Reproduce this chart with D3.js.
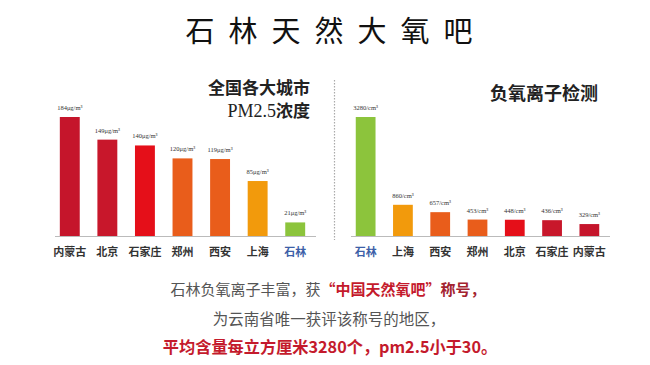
<!DOCTYPE html>
<html>
<head>
<meta charset="utf-8">
<script src="https://cdn.jsdelivr.net/npm/d3@7"></script>
<style>
  body { margin: 0; background: #fff; }
  svg { display: block; }
</style>
</head>
<body>
<svg id="chart" width="650" height="365"></svg>
<script>
// PM2.5 per city (left chart)
const pmCities = ['内蒙古', '北京', '石家庄', '郑州', '西安', '上海', '石林']
const pmValues = [184, 149, 140, 120, 119, 85, 21]
const pmColors = ['#c5152b', '#c8172b', '#e50f19', '#e95d1b', '#e95d1b', '#f29a0c', '#8cc43c']

// negative oxygen ions per cm3 (right chart)
const ionCities = ['石林', '上海', '西安', '郑州', '北京', '石家庄', '内蒙古']
const ionValues = [3280, 860, 657, 453, 448, 436, 329]
const ionColors = ['#8cc43c', '#f29a0c', '#e95d1b', '#e95d1b', '#e50f19', '#c8172b', '#c5152b']

const svg = d3.select('#chart')
const cjk = '"Noto Sans CJK SC", "Noto Sans", sans-serif'
const serif = '"Liberation Serif", "DejaVu Serif", serif'

// title
svg.append('text')
  .attr('x', 336)
  .attr('y', 42)
  .attr('text-anchor', 'middle')
  .attr('font-family', cjk)
  .attr('font-size', 29)
  .attr('letter-spacing', 14)
  .attr('fill', '#111')
  .text('石林天然大氧吧')

/**
 * Draws one bar chart panel.
 */
function drawPanel (cats, values, colors, range, unit) {
  const x = d3.scaleBand()
    .domain(cats)
    .range(range)
    .paddingInner(0.47)
    .paddingOuter(0.235)
  const y = d3.scaleLinear()
    .domain([0, d3.max(values)])
    .range([236, 117])

  const g = svg.append('g')

  g.append('line')
    .attr('x1', range[0] + 4)
    .attr('x2', range[1] + 2)
    .attr('y1', y(0) + 0.5)
    .attr('y2', y(0) + 0.5)
    .attr('stroke', '#bbb')
    .attr('stroke-width', 1)

  g.selectAll('rect')
    .data(values)
    .join('rect')
    .attr('x', (d, i) => x(cats[i]))
    .attr('y', d => y(d))
    .attr('width', x.bandwidth())
    .attr('height', d => y(0) - y(d))
    .attr('fill', (d, i) => colors[i])

  g.selectAll('.val')
    .data(values)
    .join('text')
    .attr('class', 'val')
    .attr('x', (d, i) => x(cats[i]) + x.bandwidth() / 2)
    .attr('y', d => y(d) - 7)
    .attr('text-anchor', 'middle')
    .attr('font-family', serif)
    .attr('font-size', 6.5)
    .attr('fill', '#333')
    .text(d => d + unit)

  g.selectAll('.cat')
    .data(cats)
    .join('text')
    .attr('class', 'cat')
    .attr('x', d => x(d) + x.bandwidth() / 2)
    .attr('y', 256)
    .attr('text-anchor', 'middle')
    .attr('font-family', cjk)
    .attr('font-weight', 'bold')
    .attr('font-size', 11)
    .attr('fill', d => d === '石林' ? '#3d5fa8' : '#333')
    .text(d => d)
}

drawPanel(pmCities, pmValues, pmColors, [51, 314], 'μg/m³')
drawPanel(ionCities, ionValues, ionColors, [347, 608], '/cm³')

// dotted divider
svg.append('line')
  .attr('x1', 334.5)
  .attr('x2', 334.5)
  .attr('y1', 80)
  .attr('y2', 240)
  .attr('stroke', '#aaa')
  .attr('stroke-width', 1.2)
  .attr('stroke-dasharray', '1.5,1.5')

// panel headings
svg.append('text')
  .attr('x', 310)
  .attr('y', 94)
  .attr('text-anchor', 'end')
  .attr('font-family', cjk)
  .attr('font-weight', 'bold')
  .attr('font-size', 17)
  .attr('fill', '#222')
  .text('全国各大城市')

const pmHead = svg.append('text')
  .attr('x', 310)
  .attr('y', 117)
  .attr('text-anchor', 'end')
  .attr('font-size', 17)
  .attr('fill', '#222')
pmHead.append('tspan')
  .attr('font-family', serif)
  .attr('font-size', 18)
  .text('PM2.5')
pmHead.append('tspan')
  .attr('font-family', cjk)
  .attr('font-weight', 'bold')
  .text('浓度')

svg.append('text')
  .attr('x', 598)
  .attr('y', 100)
  .attr('text-anchor', 'end')
  .attr('font-family', cjk)
  .attr('font-weight', 'bold')
  .attr('font-size', 18)
  .attr('fill', '#222')
  .text('负氧离子检测')

// caption
const line1 = svg.append('text')
  .attr('x', 328)
  .attr('y', 295)
  .attr('text-anchor', 'middle')
  .attr('font-family', cjk)
  .attr('font-size', 15)
  .attr('fill', '#555')
line1.append('tspan').text('石林负氧离子丰富，获')
line1.append('tspan').attr('fill', '#c41a2c').attr('font-weight', 'bold').text('“中国天然氧吧”')
line1.append('tspan').attr('fill', '#a3232f').attr('font-weight', 'bold').text('称号，')

svg.append('text')
  .attr('x', 329)
  .attr('y', 325)
  .attr('text-anchor', 'middle')
  .attr('font-family', cjk)
  .attr('font-size', 15.5)
  .attr('fill', '#555')
  .text('为云南省唯一获评该称号的地区，')

svg.append('text')
  .attr('x', 330)
  .attr('y', 353)
  .attr('text-anchor', 'middle')
  .attr('font-family', cjk)
  .attr('font-weight', 'bold')
  .attr('font-size', 16.2)
  .attr('fill', '#c41a2c')
  .text('平均含量每立方厘米3280个，pm2.5小于30。')
</script>
</body>
</html>
